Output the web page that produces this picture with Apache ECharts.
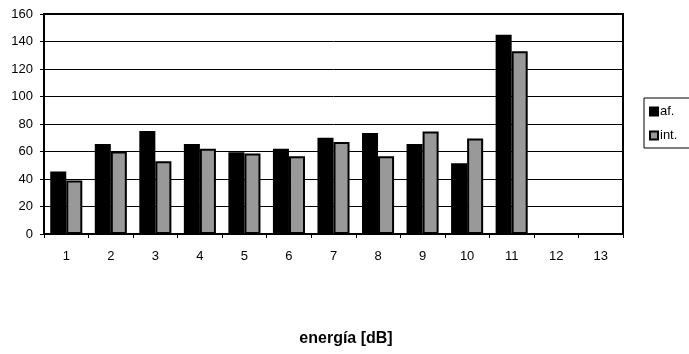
<!DOCTYPE html>
<html><head><meta charset="utf-8">
<script src="https://cdn.jsdelivr.net/npm/echarts@6/dist/echarts.min.js"></script>
<style>html,body{margin:0;padding:0;background:#fff}#c{width:689px;height:354px}</style>
</head><body><div id="c"></div>
<script>
const categories = ['1','2','3','4','5','6','7','8','9','10','11','12','13'];
const afValues = [45.5, 65.5, 75, 65.5, 59.5, 62, 70, 73.5, 65.5, 51.5, 145, null, null];
const intValues = [39, 60, 53, 62, 58.5, 56.5, 67, 56.5, 74.5, 69.5, 133, null, null];
const yTicks = [0, 20, 40, 60, 80, 100, 120, 140, 160];
const seriesNames = ['af.', 'int.'];
const xTitle = 'energía [dB]';

const font = 'Liberation Sans, Arial, sans-serif';
const chart = echarts.init(document.getElementById('c'), null, {renderer: 'canvas'});
chart.setOption({
  animation: false,
  backgroundColor: '#fff',
  title: {
    text: xTitle, left: 341, top: 326, textAlign: 'center',
    textStyle: {fontFamily: font, fontSize: 16, fontWeight: 'bold', color: '#000'}
  },
  legend: {
    orient: 'vertical', left: 644, top: 98,
    data: seriesNames,
    icon: 'rect', itemWidth: 8, itemHeight: 8, itemGap: 11,
    padding: [7, 20, 6, 5],
    borderColor: '#000', borderWidth: 1, borderRadius: 0,
    backgroundColor: '#fff',
    textStyle: {fontFamily: font, fontSize: 13, color: '#000', padding: [0, 0, 0, -3]}
  },
  grid: {left: 44, top: 14, width: 579, height: 220, show: true, borderColor: '#000', borderWidth: 2, backgroundColor: '#fff'},
  xAxis: {
    type: 'category', data: categories, boundaryGap: true,
    axisLine: {lineStyle: {color: '#000', width: 2}},
    axisTick: {show: true, interval: 0, length: 4, lineStyle: {color: '#000', width: 1}},
    axisLabel: {interval: 0, margin: 16, fontFamily: font, fontSize: 13, color: '#000'},
    splitLine: {show: false}
  },
  yAxis: {
    type: 'value', min: yTicks[0], max: yTicks[yTicks.length - 1], interval: 20,
    axisLine: {show: true, lineStyle: {color: '#000', width: 2}},
    axisTick: {show: true, length: 4, lineStyle: {color: '#000'}},
    axisLabel: {margin: 11, fontFamily: font, fontSize: 13, color: '#000'},
    splitLine: {show: true, lineStyle: {color: '#000', width: 1}}
  },
  series: [
    {name: seriesNames[0], type: 'bar', data: afValues, barGap: '0%', barCategoryGap: '28%',
     itemStyle: {color: '#000', borderColor: '#000', borderWidth: 2}},
    {name: seriesNames[1], type: 'bar', data: intValues, barGap: '0%', barCategoryGap: '28%',
     itemStyle: {color: '#999999', borderColor: '#000', borderWidth: 2}}
  ]
});
</script></body></html>
